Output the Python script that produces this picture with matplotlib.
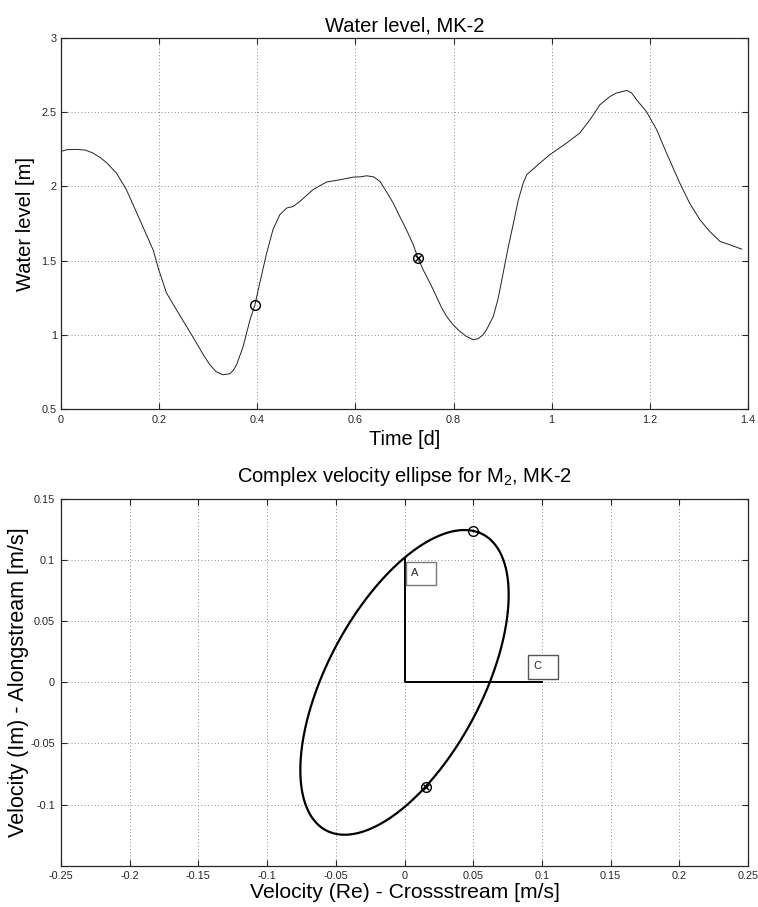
import numpy as np
import matplotlib
matplotlib.use("Agg")
import matplotlib.pyplot as plt
from matplotlib.patches import Rectangle

plt.rcParams['font.family'] = ['Liberation Sans', 'DejaVu Sans']
plt.rcParams['mathtext.fontset'] = 'custom'
plt.rcParams['mathtext.rm'] = 'Liberation Sans'
plt.rcParams['mathtext.it'] = 'Liberation Sans'

# water level record at MK-2
time_d = [0.0, 0.012, 0.031, 0.050, 0.065, 0.080, 0.093, 0.113, 0.133, 0.160,
          0.188, 0.199, 0.215, 0.235, 0.256, 0.276, 0.290, 0.303, 0.316, 0.330,
          0.344, 0.351, 0.358, 0.371, 0.385, 0.395, 0.405, 0.419, 0.432, 0.446,
          0.460, 0.473, 0.487, 0.514, 0.541, 0.568, 0.595, 0.610, 0.623, 0.637,
          0.650, 0.663, 0.677, 0.690, 0.704, 0.718, 0.727, 0.738, 0.752, 0.765,
          0.776, 0.786, 0.799, 0.813, 0.826, 0.840, 0.850, 0.860, 0.867, 0.881,
          0.891, 0.901, 0.911, 0.922, 0.932, 0.942, 0.949, 0.956, 0.976, 0.996,
          1.030, 1.057, 1.078, 1.098, 1.119, 1.132, 1.153, 1.163, 1.173, 1.193,
          1.214, 1.234, 1.261, 1.281, 1.302, 1.322, 1.343, 1.363, 1.387]
level_m = [2.236, 2.248, 2.250, 2.245, 2.225, 2.195, 2.160, 2.090, 1.980, 1.780,
           1.570, 1.440, 1.282, 1.170, 1.056, 0.945, 0.866, 0.800, 0.752, 0.731,
           0.738, 0.760, 0.800, 0.920, 1.100, 1.200, 1.350, 1.550, 1.710, 1.810,
           1.855, 1.865, 1.900, 1.980, 2.030, 2.045, 2.063, 2.065, 2.072, 2.065,
           2.034, 1.966, 1.888, 1.800, 1.708, 1.607, 1.522, 1.439, 1.349, 1.259,
           1.180, 1.124, 1.068, 1.023, 0.990, 0.967, 0.974, 1.000, 1.034, 1.124,
           1.248, 1.416, 1.585, 1.753, 1.910, 2.023, 2.079, 2.100, 2.158, 2.214,
           2.292, 2.360, 2.450, 2.550, 2.607, 2.630, 2.647, 2.630, 2.584, 2.505,
           2.382, 2.225, 2.023, 1.888, 1.776, 1.697, 1.630, 1.607, 1.578]

# phase markers on the water level curve
open_t, open_h = [0.395], [1.20]
cross_t, cross_h = [0.727], [1.52]

# M2 tidal ellipse parameters [m/s], inclination [deg]
semi_major = 0.134
semi_minor = 0.0577
inclination = 66.0

# phase markers on the ellipse
open_u, open_v = [0.0497], [0.1238]
cross_u, cross_v = [0.0155], [-0.0858]

# legs labelled A and C
leg_a = 0.102
leg_c = 0.1

ink = '#262626'

fig = plt.figure(figsize=(7.58, 9.07), dpi=100)
ax1 = fig.add_axes([0.0805, 0.549, 0.9063, 0.409])
ax2 = fig.add_axes([0.0805, 0.0455, 0.9063, 0.4043])


def style(ax, ypad):
    ax.grid(True, color='#666666', linestyle=(0, (1, 3)), linewidth=0.6)
    ax.set_axisbelow(True)
    ax.tick_params(direction='in', top=True, right=True, length=4,
                   width=0.8, color=ink, labelsize=7.8, labelcolor=ink)
    ax.tick_params(axis='x', pad=4)
    ax.tick_params(axis='y', pad=ypad)
    for s in ax.spines.values():
        s.set_color(ink)
        s.set_linewidth(0.9)


# upper panel
ax1.plot(time_d, level_m, color='#222222', linewidth=0.7)
ax1.plot(open_t, open_h, 'o', mfc='none', mec='black', ms=7, mew=1.0)
ax1.plot(cross_t, cross_h, 'o', mfc='none', mec='black', ms=7, mew=1.0)
ax1.plot(cross_t, cross_h, 'x', color='black', ms=5, mew=1.0)
ax1.set_xlim(0, 1.4)
ax1.set_ylim(0.5, 3)
ax1.set_xticks(np.arange(0, 1.41, 0.2))
ax1.set_xticklabels(['0', '0.2', '0.4', '0.6', '0.8', '1', '1.2', '1.4'])
ax1.set_yticks(np.arange(0.5, 3.01, 0.5))
ax1.set_yticklabels(['0.5', '1', '1.5', '2', '2.5', '3'])
style(ax1, 3)
ax1.set_title('Water level, MK-2', fontsize=14.5, pad=5)
ax1.set_xlabel('Time [d]', fontsize=14.3)
ax1.set_ylabel('Water level [m]', fontsize=14.5)
ax1.xaxis.set_label_coords(0.5, -0.056)
ax1.yaxis.set_label_coords(-0.038, 0.5)

# lower panel: ellipse traced from its parameters
ph = np.linspace(0, 2 * np.pi, 721)
th = np.deg2rad(inclination)
u = semi_major * np.cos(th) * np.cos(ph) - semi_minor * np.sin(th) * np.sin(ph)
v = semi_major * np.sin(th) * np.cos(ph) + semi_minor * np.cos(th) * np.sin(ph)
ax2.plot(u, v, color='black', linewidth=1.6)
ax2.plot([0, 0, leg_c], [leg_a, 0, 0], color='black', linewidth=1.4)
ax2.plot(open_u, open_v, 'o', mfc='none', mec='black', ms=7, mew=1.0)
ax2.plot(cross_u, cross_v, 'o', mfc='none', mec='black', ms=7, mew=1.0)
ax2.plot(cross_u, cross_v, 'x', color='black', ms=5, mew=1.0)

# label boxes
ax2.add_patch(Rectangle((0.0014, 0.0793), 0.0218, 0.0193, fill=True,
                        facecolor='white', edgecolor='#7a7a7a', linewidth=1.0, zorder=3))
ax2.text(0.0045, 0.0895, 'A', fontsize=8, va='center', ha='left', color=ink, zorder=4)
ax2.add_patch(Rectangle((0.0897, 0.0025), 0.0219, 0.0196, fill=True,
                        facecolor='white', edgecolor='#555555', linewidth=1.0, zorder=3))
ax2.text(0.0935, 0.0130, 'C', fontsize=8, va='center', ha='left', color=ink, zorder=4)

ax2.set_xlim(-0.25, 0.25)
ax2.set_ylim(-0.15, 0.15)
xt = np.arange(-0.25, 0.2501, 0.05)
ax2.set_xticks(xt)
ax2.set_xticklabels(['-0.25', '-0.2', '-0.15', '-0.1', '-0.05', '0',
                     '0.05', '0.1', '0.15', '0.2', '0.25'])
ax2.set_yticks([-0.1, -0.05, 0, 0.05, 0.1, 0.15])
ax2.set_yticklabels(['-0.1', '-0.05', '0', '0.05', '0.1', '0.15'])
style(ax2, 4.5)
ax2.set_title(r'Complex velocity ellipse for M$_2$, MK-2', fontsize=14.5, pad=12)
ax2.set_xlabel('Velocity (Re) - Crossstream [m/s]', fontsize=15.2)
ax2.set_ylabel('Velocity (Im) - Alongstream [m/s]', fontsize=15.5)
ax2.xaxis.set_label_coords(0.5, -0.047)
ax2.yaxis.set_label_coords(-0.047, 0.5)

fig.savefig('out.png', dpi=100)
